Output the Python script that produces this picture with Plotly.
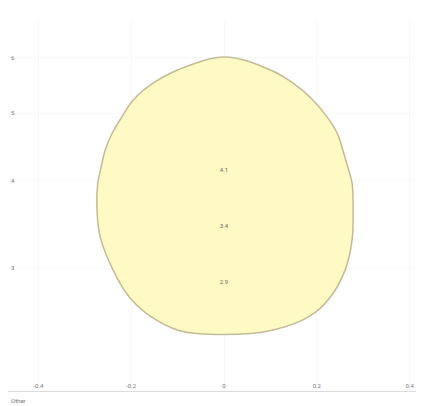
import numpy as np
import plotly.graph_objects as go

# Outline of the filled region (data units)
outline_x = [0.002, 0.099, 0.149, 0.192, 0.222, 0.244, 0.256, 0.267, 0.276,
             0.278, 0.276, 0.261, 0.228, 0.185, 0.099, 0.000, -0.095, -0.166,
             -0.203, -0.239, -0.267, -0.274, -0.272, -0.265, -0.256, -0.241,
             -0.220, -0.196, -0.153, -0.099, 0.002]
outline_y = [6.02, 5.77, 5.52, 5.22, 4.94, 4.68, 4.43, 4.18, 3.97,
             3.67, 3.29, 2.98, 2.72, 2.56, 2.44, 2.41, 2.44, 2.58,
             2.72, 2.98, 3.33, 3.67, 3.97, 4.18, 4.43, 4.68,
             4.94, 5.22, 5.52, 5.77, 6.02]

# Labels inside the region
label_x = [0.0, 0.0, 0.0]
label_y = [4.14, 3.44, 2.86]
label_text = ["4.1", "3.4", "2.9"]

# Axis ticks
x_tickvals = [-0.4, -0.2, 0.0, 0.2, 0.4]
x_ticktext = ["-0.4", "-0.2", "0", "0.2", "0.4"]
y_tickvals = [3, 4, 5, 6]
y_ticktext = ["3", "4", "5", "6"]

fig = go.Figure()
fig.add_trace(go.Scatter(
    x=outline_x, y=outline_y, mode="lines", fill="toself",
    fillcolor="rgb(255,250,196)",
    line=dict(color="rgb(196,186,150)", width=1.5, shape="spline", smoothing=1.0),
    hoverinfo="skip", showlegend=False,
))
fig.add_trace(go.Scatter(
    x=label_x, y=label_y, mode="text", text=label_text,
    textfont=dict(size=6, color="rgb(110,105,80)"),
    showlegend=False,
))

fig.update_layout(
    width=416, height=398,
    margin=dict(l=0, r=2, t=12, b=15),
    paper_bgcolor="white", plot_bgcolor="white",
    font=dict(family="Roboto", size=6, color="#777"),
    xaxis=dict(range=[-0.4655, 0.4267], tickvals=x_tickvals, ticktext=x_ticktext,
               ticklabelposition="inside", showline=True, linecolor="#dcdcdc",
               showgrid=True, gridcolor="#f7f7f7", zeroline=False,
               tickfont=dict(size=6, color="#777")),
    yaxis=dict(type="log", range=[np.log10(2.0), np.log10(6.8)],
               tickvals=y_tickvals, ticktext=y_ticktext,
               ticklabelposition="inside", showline=False,
               showgrid=True, gridcolor="#f7f7f7", zeroline=False,
               tickfont=dict(size=6, color="#777")),
    annotations=[dict(text="Other", x=0.0, y=0, xref="paper", yref="paper",
                      xanchor="left", yanchor="top", yshift=-4, xshift=1,
                      showarrow=False, font=dict(size=6, color="#777"))],
)

fig.write_html("out.html")
